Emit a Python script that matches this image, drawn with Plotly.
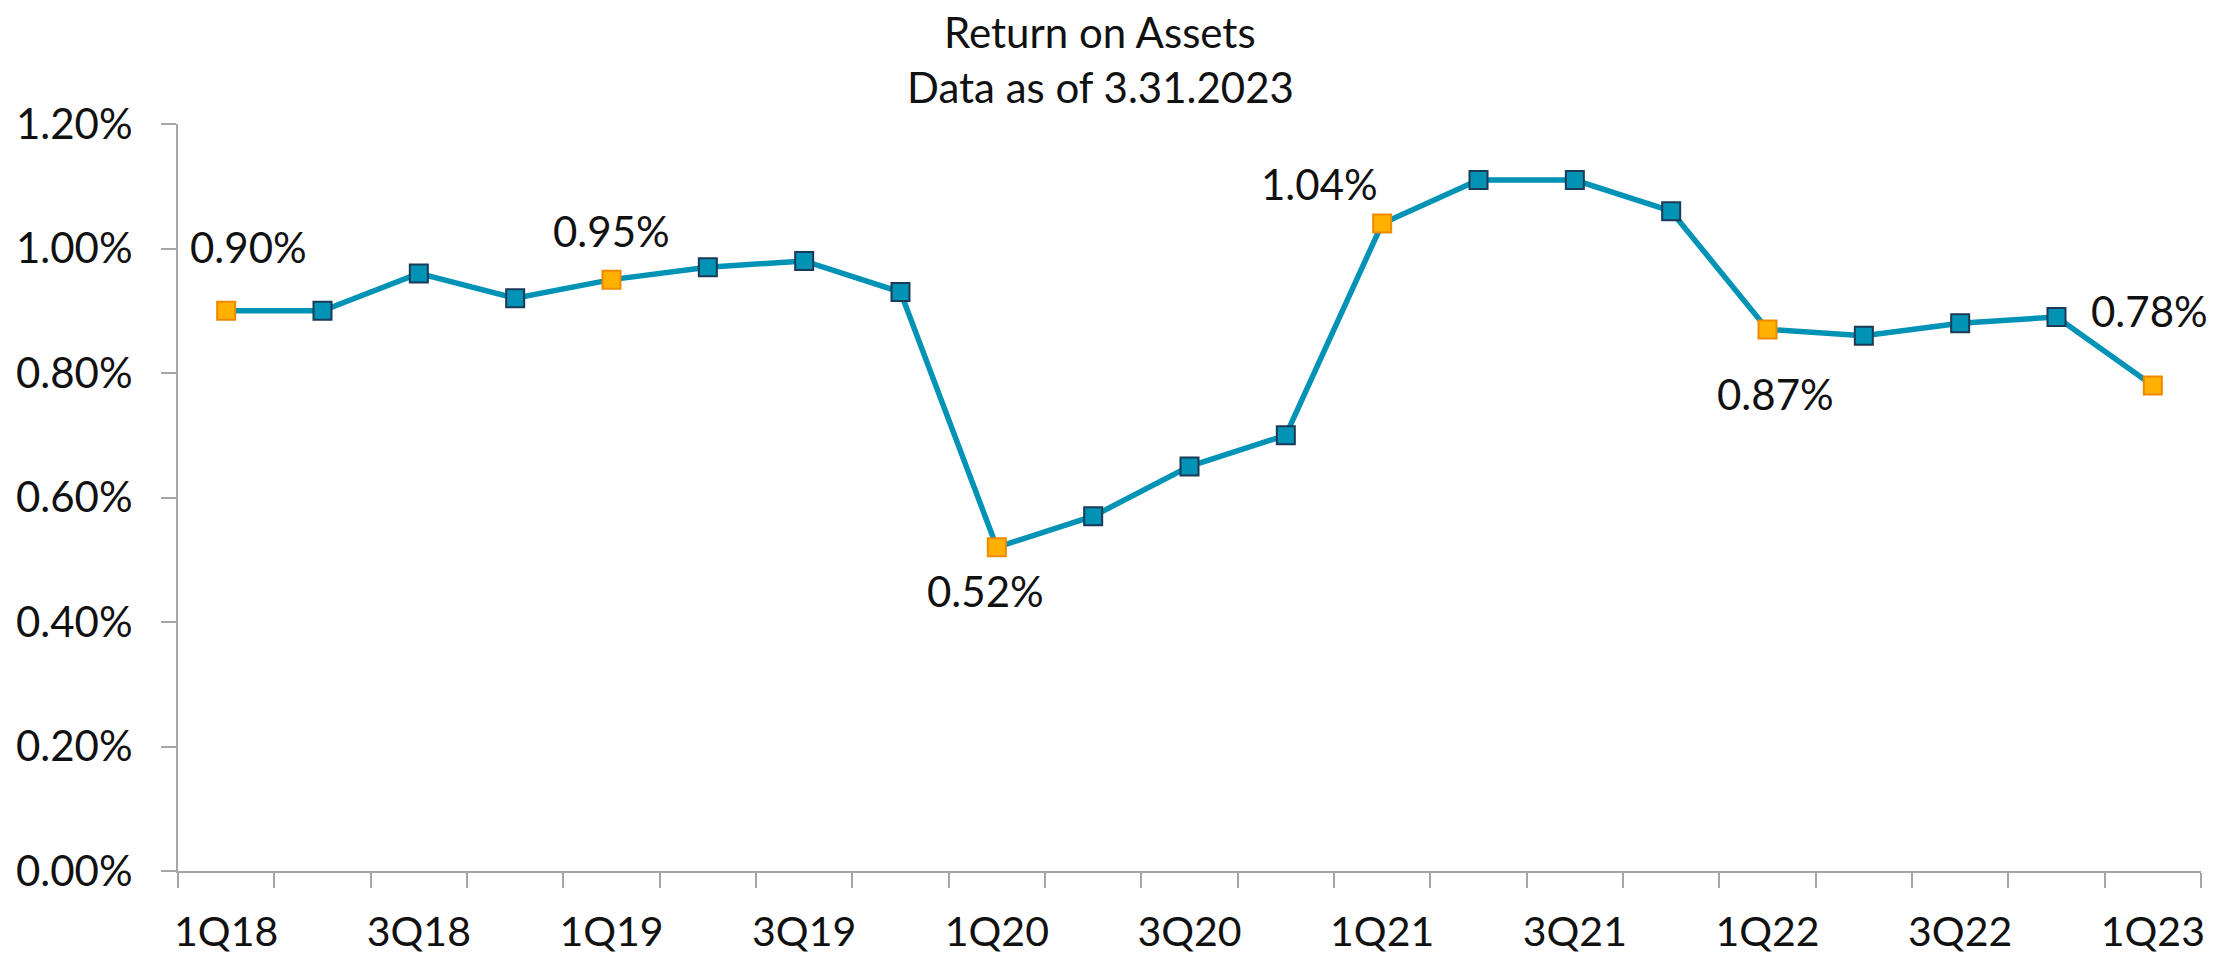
import plotly.graph_objects as go

quarters = ["1Q18", "2Q18", "3Q18", "4Q18", "1Q19", "2Q19", "3Q19", "4Q19",
            "1Q20", "2Q20", "3Q20", "4Q20", "1Q21", "2Q21", "3Q21", "4Q21",
            "1Q22", "2Q22", "3Q22", "4Q22", "1Q23"]
roa = [0.90, 0.90, 0.96, 0.92, 0.95, 0.97, 0.98, 0.93,
       0.52, 0.57, 0.65, 0.70, 1.04, 1.11, 1.11, 1.06,
       0.87, 0.86, 0.88, 0.89, 0.78]
tick_labels = [q if i % 2 == 0 else "" for i, q in enumerate(quarters)]

# label offsets (style) for highlighted first-quarter points
label_shift = {"1Q18": (22, 64), "1Q19": (0, 49), "1Q20": (-11, -44),
               "1Q21": (-63, 40), "1Q22": (8, -65), "1Q23": (-3, 74)}

FONT = "Lato"
WEIGHT = 400
FS = 42
BLUE = "#0093B6"
ORANGE = "#FFB000"
AXIS = "#A6A6A6"
TXT = "#111111"

is_hl = [q.startswith("1Q") for q in quarters]
fill = [ORANGE if h else BLUE for h in is_hl]
border = ["#EE8A00" if h else "#1B3A57" for h in is_hl]

fig = go.Figure()
fig.add_trace(go.Scatter(
    x=quarters, y=roa, mode="lines+markers",
    line=dict(color=BLUE, width=5.5),
    marker=dict(symbol="square", size=18, color=fill,
                line=dict(color=border, width=2)),
    showlegend=False, hoverinfo="x+y"))

for q, v, h in zip(quarters, roa, is_hl):
    if h:
        dx, dy = label_shift[q]
        fig.add_annotation(x=q, y=v, text=f"{v:.2f}%", showarrow=False,
                           xshift=dx, yshift=dy,
                           font=dict(family=FONT, size=FS, color=TXT, weight=WEIGHT))

# page body has an 8px margin: shrink figure and margins accordingly
OFF = 8
W, H = 2238 - OFF, 955 - OFF
L, R, T, B = 178 - OFF, 37, 124 - OFF, 84
plot_h = H - T - B
plot_w = W - L - R

def py(pix):
    return (H - B - (pix - OFF)) / plot_h

def px(pix):
    return (pix - OFF - L) / plot_w

fig.add_annotation(xref="paper", yref="paper", x=px(1100), y=py(32),
                   text="Return on Assets", showarrow=False, yanchor="middle",
                   borderpad=0,
                   font=dict(family=FONT, size=FS, color=TXT, weight=WEIGHT))
fig.add_annotation(xref="paper", yref="paper", x=px(1100), y=py(87),
                   text="Data as of 3.31.2023", showarrow=False, yanchor="middle",
                   borderpad=0,
                   font=dict(family=FONT, size=FS, color=TXT, weight=WEIGHT))

fig.update_layout(
    width=W, height=H,
    margin=dict(l=L, r=R, t=T, b=B, pad=0, autoexpand=False),
    paper_bgcolor="white", plot_bgcolor="white",
    font=dict(family=FONT, size=FS, color=TXT, weight=WEIGHT),
)
fig.update_xaxes(
    type="category", tickmode="array", tickvals=quarters, ticktext=tick_labels,
    tickson="boundaries", ticks="outside", ticklen=15, tickwidth=2, tickcolor=AXIS,
    showline=True, linecolor=AXIS, linewidth=2, showgrid=False, zeroline=False,
    tickangle=0, automargin=False, tickfont=dict(size=41),
    ticklabelstandoff=24, range=[-0.5, len(quarters) - 0.5],
)
fig.update_yaxes(
    range=[0, 1.2], tickmode="linear", tick0=0, dtick=0.2, tickformat=".2f",
    ticksuffix="%", ticks="outside", ticklen=15, tickwidth=2, tickcolor=AXIS,
    showline=True, linecolor=AXIS, linewidth=2, showgrid=False, zeroline=False,
    automargin=False, ticklabelstandoff=20,
)

fig.write_html("out.html")
